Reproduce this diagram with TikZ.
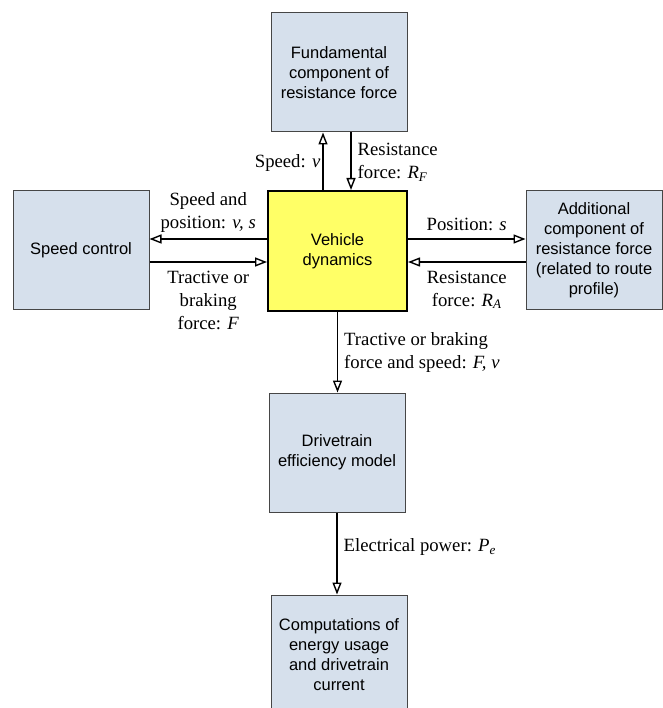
\documentclass[tikz,border=0pt]{standalone}
\usepackage{fontspec}
\setmainfont{Liberation Serif}
\setsansfont{Liberation Sans}
\usetikzlibrary{arrows.meta}
\usetikzlibrary{positioning}

\definecolor{bleugris}{RGB}{214,224,236}
\definecolor{jaune}{RGB}{255,255,102}
\definecolor{bord}{RGB}{70,70,70}

\tikzset{
    bloc/.style={draw=bord, line width=1pt, fill=bleugris, minimum width=136pt,
        minimum height=119pt, inner sep=0pt, align=center,
        font=\fontsize{16.5}{20}\sffamily},
    fleche/.style={draw=black, line width=1.4pt,
        -{Triangle[open, length=12pt, width=9pt]}},
    etiq/.style={font=\fontsize{18.7}{23}\selectfont, inner sep=3pt, align=center},
}

\begin{document}
\begin{tikzpicture}[x=1pt, y=-1pt]
        \useasboundingbox (0,0) rectangle (662,708);

        % Les blocs du modele
        \node[bloc] (fond) at (339, 72.5) {Fundamental\\component of\\resistance force};
        \node[bloc, fill=jaune, draw=black, line width=2pt, minimum width=139pt,
            minimum height=120pt] (veh) at (337.5, 251) {Vehicle\\dynamics};
        \node[bloc, minimum height=118pt] (vit) at (81, 250) {Speed control};
        \node[bloc, minimum height=118pt] (add) at (594, 250)
            {Additional\\component of\\resistance force\\(related to route\\profile)};
        \node[bloc] (trans) at (337, 452.5) {Drivetrain\\efficiency model};
        \node[bloc] (calc) at (339, 654.5)
            {Computations of\\energy usage\\and drivetrain\\current};

        % Fleches vers le haut
        \draw[fleche] ([xshift=-14.5pt]veh.north) -- ([xshift=-14.5pt]veh.north |- fond.south)
            node[midway, left, etiq, inner sep=2pt, yshift=-2pt] {Speed: \textit{v}};
        \draw[fleche] ([xshift=13.5pt]veh.north |- fond.south) -- ([xshift=13.5pt]veh.north)
            node[midway, right, etiq, align=left, inner sep=6pt, yshift=-1pt]
            {Resistance\\force: \textit{R}\textsubscript{\textit{F}}};

        % Fleches a gauche
        \draw[fleche] ([yshift=12pt]veh.west) -- ([yshift=12pt]veh.west -| vit.east)
            node[midway, above, etiq, inner sep=6pt] {Speed and\\position: \textit{v, s}};
        \draw[fleche] ([yshift=-11pt]veh.west -| vit.east) -- ([yshift=-11pt]veh.west)
            node[midway, below, etiq, inner sep=8pt] {Tractive or\\braking\\force: \textit{F}};

        % Fleches a droite
        \draw[fleche] ([yshift=12pt]veh.east) -- ([yshift=12pt]veh.east -| add.west)
            node[midway, above, etiq, inner sep=8pt] {Position: \textit{s}};
        \draw[fleche] ([yshift=-11pt]veh.east -| add.west) -- ([yshift=-11pt]veh.east)
            node[midway, below, etiq, inner sep=8pt] {Resistance\\force: \textit{R}\textsubscript{\textit{A}}};

        % Fleches vers le bas
        \draw[fleche] (veh.south) -- (veh.south |- trans.north)
            node[midway, right, etiq, align=left, inner sep=6pt]
            {Tractive or braking\\force and speed: \textit{F, v}};
        \draw[fleche] (trans.south) -- (trans.south |- calc.north)
            node[pos=0.42, right, etiq, inner sep=6pt]
            {Electrical power: \textit{P}\textsubscript{\textit{e}}};
\end{tikzpicture}
\end{document}
